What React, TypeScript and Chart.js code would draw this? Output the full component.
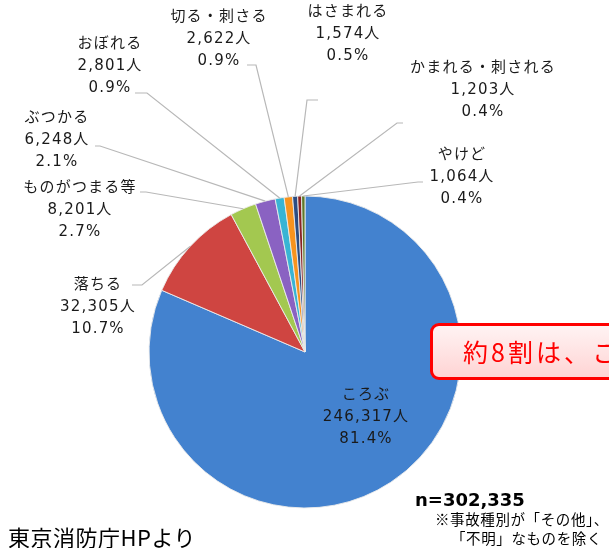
import React, { useEffect, useRef } from "react";
import { Chart, registerables } from "chart.js";

Chart.register(...registerables);

const categories = ["ころぶ", "落ちる", "ものがつまる等", "ぶつかる", "おぼれる", "切る・刺さる", "はさまれる", "かまれる・刺される", "やけど"];
const counts = [246317, 32305, 8201, 6248, 2801, 2622, 1574, 1203, 1064];
const percents = ["81.4%", "10.7%", "2.7%", "2.1%", "0.9%", "0.9%", "0.5%", "0.4%", "0.4%"];
const colors = ["#4382cf", "#cf4541", "#a3c850", "#8a62c2", "#38b4d4", "#f7931e", "#2c4d82", "#8a2224", "#5f7a2a"];
const totalLabel = "n=302,335";

// label layout: text centre x, first line centre y, leader path (label end, elbow)
const labelLayout = [
  { x: 366, y: 395, leader: null },
  { x: 98, y: 285, leader: [[132, 285], [142, 285]] },
  { x: 80, y: 188, leader: [[140, 192], [146, 192]] },
  { x: 57, y: 118, leader: [[95, 146], [100, 146]] },
  { x: 110, y: 44, leader: [[135, 93], [147, 93]] },
  { x: 219, y: 17, leader: [[247, 65], [256, 65]] },
  { x: 348, y: 12, leader: [[318, 100], [307, 100]] },
  { x: 483, y: 68, leader: [[403, 123], [397, 123]] },
  { x: 462, y: 155, leader: [[423, 182], [418, 182]] },
];

const FONT = '"DejaVu Sans", "Noto Sans CJK JP", sans-serif';
const JFONT = '"Noto Sans CJK JP", "Noto Sans", sans-serif';

const labelPlugin = {
  id: "pieLabels",
  afterDatasetsDraw(chart: any) {
    const ctx = chart.ctx;
    const meta = chart.getDatasetMeta(0);
    ctx.save();
    meta.data.forEach((arc: any, i: number) => {
      const lay = labelLayout[i];
      const p = arc.getProps(["x", "y", "startAngle", "endAngle", "outerRadius"], true);
      const mid = (p.startAngle + p.endAngle) / 2;
      const ex = p.x + Math.cos(mid) * p.outerRadius;
      const ey = p.y + Math.sin(mid) * p.outerRadius;
      if (lay.leader) {
        ctx.beginPath();
        ctx.strokeStyle = "#b8b8b8";
        ctx.lineWidth = 1.2;
        ctx.moveTo(lay.leader[0][0], lay.leader[0][1]);
        ctx.lineTo(lay.leader[1][0], lay.leader[1][1]);
        ctx.lineTo(ex, ey);
        ctx.stroke();
      }
      const lines = [categories[i], counts[i].toLocaleString("en-US") + "人", percents[i]];
      ctx.fillStyle = "#1a1a1a";
      ctx.font = "15px " + FONT;
      try { (ctx as any).letterSpacing = "1.2px"; } catch (e) {}
      ctx.textAlign = "center";
      ctx.textBaseline = "middle";
      lines.forEach((t, k) => ctx.fillText(t, lay.x, lay.y + k * 22));
    });
    ctx.restore();
  },
};

export default function App() {
  const ref = useRef<HTMLCanvasElement>(null);
  useEffect(() => {
    if (!ref.current) return;
    const chart = new Chart(ref.current, {
      type: "pie",
      data: {
        labels: categories,
        datasets: [
          {
            data: counts,
            backgroundColor: colors,
            borderColor: "rgba(235,235,235,0.9)",
            borderWidth: 1,
          },
        ],
      },
      options: {
        responsive: false,
        animation: false,
        radius: 156,
        layout: { padding: { left: 1, right: 0, top: 196, bottom: 40 } },
        plugins: { legend: { display: false }, tooltip: { enabled: false } },
      },
      plugins: [labelPlugin],
    } as any);
    return () => chart.destroy();
  }, []);

  return (
    <div style={{ position: "fixed", left: 0, top: 0, width: 609, height: 548, overflow: "hidden", background: "#fff", fontFamily: JFONT }}>
      <canvas ref={ref} width={609} height={548} style={{ position: "absolute", left: 0, top: 0, width: 609, height: 548 }} />
      <div
        style={{
          position: "absolute",
          left: 430,
          top: 323,
          width: 220,
          height: 51,
          border: "3px solid #ff0000",
          borderRadius: 9,
          background: "linear-gradient(180deg, #fff3f3 0%, #ffd4d4 100%)",
          color: "#ff0000",
          fontSize: 25,
          letterSpacing: 3,
          lineHeight: "51px",
          paddingLeft: 30,
          whiteSpace: "nowrap",
          boxSizing: "content-box",
        }}
      >
        約8割は、ころぶ
      </div>
      <div style={{ position: "absolute", left: 415, top: 487, fontSize: 18, fontWeight: 700, fontFamily: '"DejaVu Sans", sans-serif', lineHeight: "26px", whiteSpace: "nowrap", color: "#000" }}>
        {totalLabel}
      </div>
      <div style={{ position: "absolute", left: 435, top: 509, fontSize: 14.5, letterSpacing: 0.6, lineHeight: "19px", whiteSpace: "nowrap", color: "#000" }}>
        ※事故種別が「その他」、
        <br />
        <span style={{ paddingLeft: 16 }}>「不明」なものを除く</span>
      </div>
      <div style={{ position: "absolute", left: 8, top: 522, fontSize: 22, letterSpacing: 0.5, lineHeight: "28px", whiteSpace: "nowrap", color: "#000" }}>
        東京消防庁HPより
      </div>
    </div>
  );
}
